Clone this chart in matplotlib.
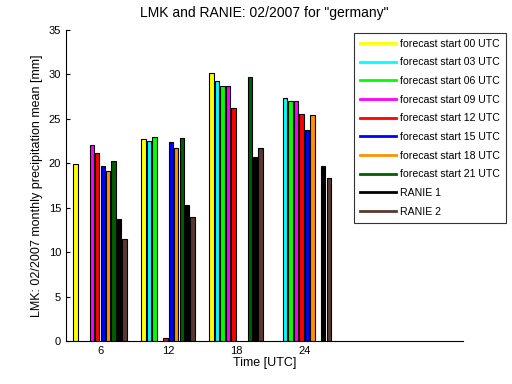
import numpy as np
import matplotlib
matplotlib.use("Agg")
import matplotlib.pyplot as plt
from matplotlib.lines import Line2D

plt.rcParams['font.family'] = ['Liberation Sans', 'DejaVu Sans']

hours = [6, 12, 18, 24]
nan = np.nan

series_names = ['forecast start 00 UTC', 'forecast start 03 UTC', 'forecast start 06 UTC',
                'forecast start 09 UTC', 'forecast start 12 UTC', 'forecast start 15 UTC',
                'forecast start 18 UTC', 'forecast start 21 UTC', 'RANIE 1', 'RANIE 2']

fc00 = [19.9, 22.7, 30.2, nan]
fc03 = [nan, 22.5, 29.3, 27.4]
fc06 = [nan, 23.0, 28.7, 27.0]
fc09 = [22.1, nan, 28.7, 27.0]
fc12 = [21.2, 0.35, 26.2, 25.5]
fc15 = [19.7, 22.4, nan, 23.8]
fc18 = [19.1, 21.7, nan, 25.4]
fc21 = [20.3, 22.8, 29.7, nan]
ranie1 = [13.7, 15.3, 20.7, 19.7]
ranie2 = [11.45, 13.9, 21.7, 18.4]

all_series = [fc00, fc03, fc06, fc09, fc12, fc15, fc18, fc21, ranie1, ranie2]
colors = ['#ffff00', '#00ffff', '#00ff00', '#ff00ff', '#ff0000', '#0000ff',
          '#ff9000', '#005f00', '#000000', '#5a3830']

fig = plt.figure(figsize=(5.12, 3.84), dpi=100)
ax = fig.add_axes([66/512, 1-341/384, (463-66)/512, (341-30)/384])

n = len(all_series)
group_w = 0.8 * 6
step = group_w / n
x = np.array(hours, dtype=float)
for i, (vals, c) in enumerate(zip(all_series, colors)):
    pos = x - group_w/2 + step*(i+0.5)
    ax.bar(pos, vals, width=step*0.8, color=c, edgecolor='black', linewidth=0.8)

ax.set_xlim(3, 38)
ax.set_ylim(0, 35)
ax.set_xticks(hours)
ax.set_yticks(np.arange(0, 36, 5))
ax.spines['top'].set_visible(False)
ax.spines['right'].set_visible(False)
ax.tick_params(direction='in', labelsize=8, length=3)
ax.tick_params(axis='x', length=0)
ax.set_xlabel('Time [UTC]', fontsize=9, labelpad=1)
ax.set_ylabel('LMK: 02/2007 monthly precipitation mean [mm]', fontsize=9)
ax.set_title('LMK and RANIE: 02/2007 for "germany"', fontsize=10, pad=9)

handles = [Line2D([0], [0], color=c, lw=2) for c in colors]
leg = ax.legend(handles, series_names, loc='upper left', bbox_to_anchor=(288/397, 1-3/311),
                fontsize=7.6, frameon=True, fancybox=False, edgecolor='black',
                handlelength=3.4, labelspacing=0.82, borderpad=0.55, handletextpad=0.4,
                borderaxespad=0)
leg.get_frame().set_linewidth(0.8)

fig.savefig('out.png', dpi=100)
